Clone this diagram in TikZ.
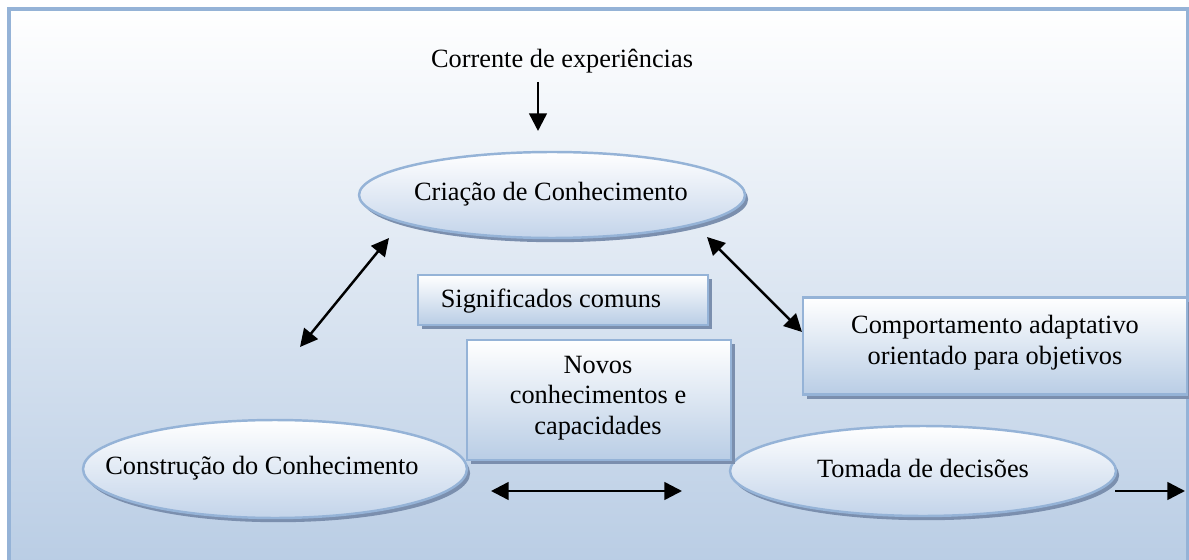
\documentclass[tikz,border=0pt]{standalone}
\usepackage{fontspec}
\setmainfont{Liberation Serif}
\usetikzlibrary{shapes.geometric,shadows,arrows.meta}
\definecolor{frame}{HTML}{95B3D7}
\definecolor{bgbot}{HTML}{B8CCE4}
\definecolor{boxbot}{HTML}{B9CDE5}
\definecolor{ellbot}{HTML}{C3D4EA}
\definecolor{shad}{HTML}{7B8FAE}
\begin{document}
\begin{tikzpicture}[x=0.02cm,y=-0.02cm,
  txt/.style={font=\fontsize{15pt}{17.5pt}\selectfont, align=center, inner sep=0pt},
  ell/.style={ellipse, draw=frame, line width=1.4pt, top color=white, bottom color=ellbot, inner sep=0pt,
    drop shadow={shadow xshift=1.8pt, shadow yshift=-2.4pt, fill=shad, opacity=1}},
  box/.style={rectangle, draw=frame, line width=1.4pt, top color=white, bottom color=boxbot, inner sep=0pt,
    drop shadow={shadow xshift=2.4pt, shadow yshift=-2.4pt, fill=shad, opacity=1}},
  arr/.style={line width=1.4pt, -{Triangle[length=10pt,width=10pt]}},
  darr/.style={line width=1.4pt, {Triangle[length=10pt,width=10pt]}-{Triangle[length=10pt,width=10pt]}}]
\useasboundingbox (0,0) rectangle (1189,560);
\fill[white] (0,0) rectangle (1189,560);
\draw[frame, line width=2pt, top color=white, bottom color=bgbot] (9,9) rectangle (1188,575);

% ellipses
\node[ell, minimum width=7.72cm, minimum height=1.72cm] (crea) at (552,195) {};
\node[txt] (creat) at (551,194) {Criação de Conhecimento};
\node[ell, minimum width=7.68cm, minimum height=1.96cm] (cons) at (275,469) {};
\node[txt] (const) at (262,468) {Construção do Conhecimento};
\node[ell, minimum width=7.72cm, minimum height=1.8cm] (toma) at (923,471) {};
\node[txt] (tomat) at (923,468) {Tomada de decisões};

% boxes
\node[box, minimum width=5.8cm, minimum height=1.0cm] (sig) at (563,300) {};
\node[txt] (sigt) at (551,301) {Significados comuns};
\node[box, minimum width=5.28cm, minimum height=2.4cm] (nov) at (599,400) {};
\node[txt] (novt) at (598,398) {Novos\\conhecimentos e\\capacidades};
\node[box, minimum width=7.68cm, minimum height=1.94cm] (comp) at (995,346) {};
\node[txt] (compt) at (995,343) {Comportamento adaptativo\\orientado para objetivos};

% top text
\node[txt] (corr) at (562,61) {Corrente de experiências};

% arrow end points
\coordinate (c1) at (538,82);
\coordinate (c2) at (538,131);
\coordinate (d1) at (300,347);
\coordinate (d2) at (389,238);
\coordinate (e1) at (707,237);
\coordinate (e2) at (802,332);
\coordinate (f1) at (491,491);
\coordinate (f2) at (682,491);
\coordinate (g1) at (1115,491);
\coordinate (g2) at (1185,491);

\draw[arr] (c1) -- (c2);
\draw[darr] (d1) -- (d2);
\draw[darr] (e1) -- (e2);
\draw[darr] (f1) -- (f2);
\draw[arr] (g1) -- (g2);
\end{tikzpicture}
\end{document}
